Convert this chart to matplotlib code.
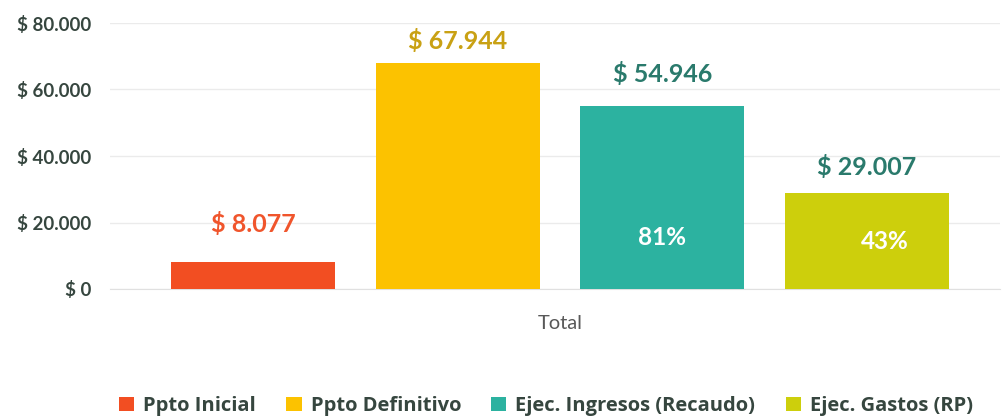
import matplotlib
matplotlib.use("Agg")
import matplotlib.pyplot as plt
from matplotlib.ticker import FuncFormatter
from matplotlib.patches import Patch

# ── data ─────────────────────────────────────────────────────────────────────
series = ["Ppto Inicial", "Ppto Definitivo", "Ejec. Ingresos (Recaudo)", "Ejec. Gastos (RP)"]
values = [8077, 67944, 54946, 29007]
value_labels = ["$ 8.077", "$ 67.944", "$ 54.946", "$ 29.007"]
pct_labels = [None, None, "81%", "43%"]
category = "Total"
y_ticks = [0, 20000, 40000, 60000, 80000]

# ── style ────────────────────────────────────────────────────────────────────
bar_colors = ["#F24E22", "#FCC200", "#2CB2A0", "#CDCF0C"]
label_colors = ["#F0552C", "#C9A114", "#2A7A6C", "#2A7A6C"]
label_offsets = [38, 22, 32, 26]      # px above bar top (as placed in original)
pct_dx = [0, 0, 0, 18]
pct_dy = [0, 0, 0, -4]
plt.rcParams["font.family"] = ["Lato", "DejaVu Sans"]

fig = plt.figure(figsize=(10.03, 4.19), dpi=100)
ax = fig.add_axes([110 / 1003, 130 / 419, 890 / 1003, 266 / 419])

x = list(range(len(values)))
bars = ax.bar(x, values, width=0.801, color=bar_colors, zorder=3)

ax.set_xlim(-0.699, 3.65)
ax.set_ylim(0, 80000)
ax.set_yticks(y_ticks)
ax.yaxis.set_major_formatter(FuncFormatter(
    lambda v, p: "$ " + f"{int(v):,}".replace(",", ".")))
ax.tick_params(axis="y", length=0, pad=13.5, labelsize=13.5, labelcolor="#36463F")
for t in ax.get_yticklabels():
    t.set_fontweight("bold")
ax.set_xticks([1.5])
ax.set_xticklabels([category])
ax.tick_params(axis="x", length=0, pad=19, labelsize=14.5, labelcolor="#595959")

ax.grid(axis="y", color="#EBEBEB", linewidth=1, zorder=0)
for s in ["top", "right", "left"]:
    ax.spines[s].set_visible(False)
ax.spines["bottom"].set_color("#E0E0E0")

for i, b in enumerate(bars):
    cx = b.get_x() + b.get_width() / 2
    ax.annotate(value_labels[i], (cx, values[i]), xytext=(0, label_offsets[i] * 0.72),
                textcoords="offset points", ha="center", va="center",
                fontsize=18, fontweight="bold", color=label_colors[i], zorder=5)
    if pct_labels[i]:
        ax.annotate(pct_labels[i], (cx, 15500), xytext=(pct_dx[i] * 0.72, pct_dy[i] * 0.72),
                    textcoords="offset points", ha="center", va="center",
                    fontsize=17.5, fontweight="bold", color="white", zorder=5)

handles = [Patch(facecolor=c) for c in bar_colors]
leg = fig.legend(handles, series, loc="center", bbox_to_anchor=(546 / 1003, 1 - 406 / 419),
                 ncol=4, frameon=False, handlelength=0.75, handleheight=0.75,
                 handletextpad=0.45, columnspacing=1.5, borderaxespad=0,
                 prop={"family": "Open Sans", "size": 14.5, "weight": "bold"})
for t in leg.get_texts():
    t.set_color("#36463F")

fig.savefig("out.png", dpi=100)
